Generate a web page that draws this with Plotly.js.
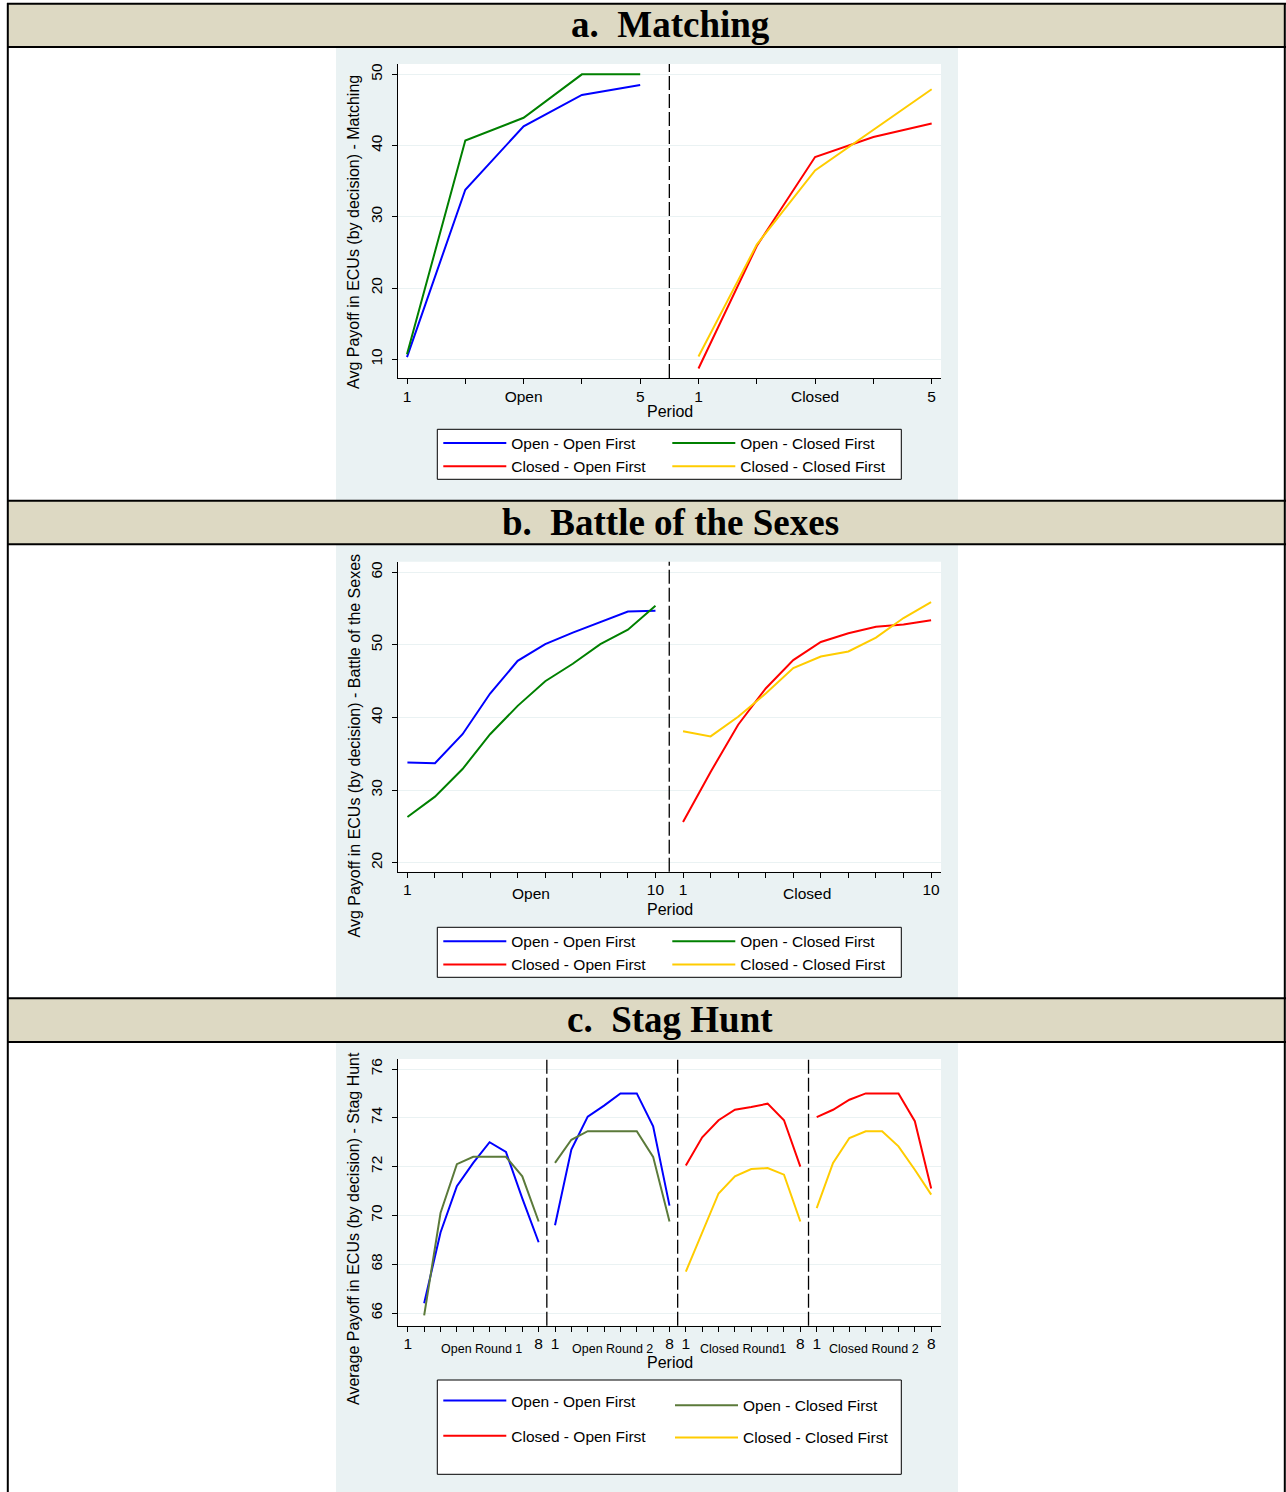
<!DOCTYPE html>
<html><head><meta charset="utf-8">
<script src="https://cdn.plot.ly/plotly-3.0.1.min.js"></script>
<style>html,body{margin:0;padding:0;background:#fff}#chart{width:1286px;height:1492px}</style>
</head><body><div id="chart"></div>
<script>
// ================= DATA =================
const seriesNames = ["Open - Open First", "Open - Closed First", "Closed - Open First", "Closed - Closed First"];
const panelTitles = ["a.\u00a0\u00a0Matching", "b.\u00a0\u00a0Battle of the Sexes", "c.\u00a0\u00a0Stag Hunt"];
const yTitles = ["Avg Payoff in ECUs (by decision) - Matching",
                 "Avg Payoff in ECUs (by decision) - Battle of the Sexes",
                 "Average Payoff in ECUs (by decision) - Stag Hunt"];
const xTitle = "Period";

// a. Matching : 5 periods, phases Open / Closed
const matchPhases = ["Open", "Closed"];
const matchPeriods = [1, 2, 3, 4, 5];
const matchOpenOpenFirst     = [10.3, 33.8, 42.7, 47.1, 48.5];
const matchOpenClosedFirst   = [10.7, 40.7, 43.9, 50.0, 50.0];
const matchClosedOpenFirst   = [8.7, 25.9, 38.4, 41.2, 43.1];
const matchClosedClosedFirst = [10.4, 26.1, 36.5, 42.2, 47.9];
const matchYTicks = [10, 20, 30, 40, 50];

// b. Battle of the Sexes : 10 periods, phases Open / Closed
const bosPhases = ["Open", "Closed"];
const bosPeriods = [1, 2, 3, 4, 5, 6, 7, 8, 9, 10];
const bosOpenOpenFirst     = [33.8, 33.7, 37.7, 43.3, 47.8, 50.1, 51.7, 53.2, 54.6, 54.7];
const bosOpenClosedFirst   = [26.3, 29.1, 32.9, 37.7, 41.6, 45.0, 47.4, 50.1, 52.1, 55.4];
const bosClosedOpenFirst   = [25.6, 32.5, 39.0, 44.0, 47.9, 50.4, 51.6, 52.5, 52.8, 53.4];
const bosClosedClosedFirst = [38.1, 37.4, 40.1, 43.3, 46.8, 48.4, 49.1, 51.0, 53.7, 55.9];
const bosYTicks = [20, 30, 40, 50, 60];

// c. Stag Hunt : 8 periods, rounds
const shRounds = ["Open Round 1", "Open Round 2", "Closed Round1", "Closed Round 2"];
const shPeriods = [1, 2, 3, 4, 5, 6, 7, 8];
const shOpenOpenFirstR1     = [66.4, 69.3, 71.2, 72.15, 73.0, 72.6, 70.7, 68.9];
const shOpenOpenFirstR2     = [69.6, 72.7, 74.05, 74.5, 75.0, 75.0, 73.65, 70.4];
const shOpenClosedFirstR1   = [65.9, 70.1, 72.1, 72.4, 72.4, 72.4, 71.6, 69.75];
const shOpenClosedFirstR2   = [72.15, 73.1, 73.45, 73.45, 73.45, 73.45, 72.4, 69.75];
const shClosedOpenFirstR1   = [72.05, 73.2, 73.9, 74.33, 74.44, 74.58, 73.9, 72.0];
const shClosedOpenFirstR2   = [74.03, 74.33, 74.74, 75.0, 75.0, 75.0, 73.86, 71.1];
const shClosedClosedFirstR1 = [67.7, 69.3, 70.9, 71.6, 71.9, 71.94, 71.67, 69.75];
const shClosedClosedFirstR2 = [70.3, 72.15, 73.17, 73.45, 73.45, 72.83, 71.87, 70.85];
const shYTicks = [66, 68, 70, 72, 74, 76];

// ================= STYLE / LAYOUT =================
const W = 1286, H = 1492;
const px = v => v / W;
const py = v => 1 - v / H;
const FONT = "Liberation Sans, Arial, sans-serif";
const C = {blue: "#0000ff", green: "#008000", olive: "#5b7a3a", red: "#ff0000", gold: "#ffcc00"};
const regionBg = "#eaf2f3", headerBg = "#ddd9c3";

// offset a phase/round onto a continuous axis
const place = (periods, groupIndex) => periods.map(p => p + groupIndex * periods.length);

const traces = [];
function line(x, y, color, name, xa, ya, legend) {
  traces.push({type: "scatter", mode: "lines", x: x, y: y, name: name,
    line: {color: color, width: 2}, xaxis: xa, yaxis: ya, legend: legend,
    legendgroup: legend + name, connectgaps: false, hoverinfo: "x+y+name"});
}
// join two rounds with a gap
const join = (xa, ya, xb, yb) => ({x: [...xa, null, ...xb], y: [...ya, null, ...yb]});

// ---- panel a
line(place(matchPeriods, 0), matchOpenOpenFirst, C.blue, seriesNames[0], "x", "y", "legend");
line(place(matchPeriods, 1), matchClosedOpenFirst, C.red, seriesNames[2], "x", "y", "legend");
line(place(matchPeriods, 0), matchOpenClosedFirst, C.green, seriesNames[1], "x", "y", "legend2");
line(place(matchPeriods, 1), matchClosedClosedFirst, C.gold, seriesNames[3], "x", "y", "legend2");
// ---- panel b
line(place(bosPeriods, 0), bosOpenOpenFirst, C.blue, seriesNames[0], "x2", "y2", "legend3");
line(place(bosPeriods, 1), bosClosedOpenFirst, C.red, seriesNames[2], "x2", "y2", "legend3");
line(place(bosPeriods, 0), bosOpenClosedFirst, C.green, seriesNames[1], "x2", "y2", "legend4");
line(place(bosPeriods, 1), bosClosedClosedFirst, C.gold, seriesNames[3], "x2", "y2", "legend4");
// ---- panel c
let s;
s = join(place(shPeriods, 0), shOpenOpenFirstR1, place(shPeriods, 1), shOpenOpenFirstR2);
line(s.x, s.y, C.blue, seriesNames[0], "x3", "y3", "legend5");
s = join(place(shPeriods, 2), shClosedOpenFirstR1, place(shPeriods, 3), shClosedOpenFirstR2);
line(s.x, s.y, C.red, seriesNames[2], "x3", "y3", "legend5");
s = join(place(shPeriods, 0), shOpenClosedFirstR1, place(shPeriods, 1), shOpenClosedFirstR2);
line(s.x, s.y, C.olive, seriesNames[1], "x3", "y3", "legend6");
s = join(place(shPeriods, 2), shClosedClosedFirstR1, place(shPeriods, 3), shClosedClosedFirstR2);
line(s.x, s.y, C.gold, seriesNames[3], "x3", "y3", "legend6");

// ---- ticks
function phaseTicks(periods, phases) {
  const n = periods.length, vals = [], text = [];
  phases.forEach((ph, g) => periods.forEach((p, i) => {
    vals.push(p + g * n);
    text.push(i === 0 || i === n - 1 ? String(p) : "");
  }));
  return {vals, text};
}
const aT = phaseTicks(matchPeriods, matchPhases);
// matching: phase names sit on the middle period tick
matchPhases.forEach((ph, g) => { aT.text[g * matchPeriods.length + 2] = ph; });
const bT = phaseTicks(bosPeriods, bosPhases);
const bWordVals = bosPhases.map((ph, g) => (bosPeriods.length + 1) / 2 + g * bosPeriods.length);
// stag hunt: ticks on every position 0..32; first "1" label sits one step left (as in original)
const nSH = shPeriods.length;
const shTickVals = [], shTickText = [];
for (let v = 0; v <= nSH * shRounds.length; v++) { shTickVals.push(v); shTickText.push(""); }
shRounds.forEach((r, g) => {
  const first = g === 0 ? 0 : g * nSH + 1;
  shTickText[first] = String(shPeriods[0]);
  shTickText[(g + 1) * nSH] = String(shPeriods[nSH - 1]);
});
const shWordVals = shRounds.map((r, g) => g * nSH + (nSH + 1) / 2);

const tickFont = {family: FONT, size: 15.5, color: "#000"};
function xax(domain, range, vals, text, anchor) {
  return {domain, range, anchor, tickmode: "array", tickvals: vals, ticktext: text,
    ticks: "outside", ticklen: 5, tickwidth: 1, tickcolor: "#000", showline: true, linecolor: "#000",
    linewidth: 1, showgrid: false, zeroline: false, tickfont: tickFont, fixedrange: true,
    ticklabelstandoff: -1};
}
function yax(domain, range, vals, anchor) {
  return {domain, range, anchor, tickmode: "array", tickvals: vals, tickangle: -90,
    ticks: "outside", ticklen: 5, tickwidth: 1, tickcolor: "#000", showline: true, linecolor: "#000",
    linewidth: 1, showgrid: true, gridcolor: regionBg, gridwidth: 1, zeroline: false,
    tickfont: tickFont, fixedrange: true, ticklabelstandoff: 3};
}
const xd = [px(397.5), px(941)];
const aRangeX = [0.837, 10.16], bRangeX = [0.64, 20.36], cRangeX = [-0.63, 32.6];

const layout = {
  width: W, height: H, margin: {l: 0, r: 0, t: 0, b: 0},
  paper_bgcolor: "#fff", plot_bgcolor: "#fff",
  font: {family: FONT, color: "#000"},
  showlegend: true, hovermode: "closest",
  xaxis: xax(xd, aRangeX, aT.vals, aT.text, "y"),
  yaxis: yax([py(378), py(64)], [7.37, 51.45], matchYTicks, "x"),
  xaxis2: xax(xd, bRangeX, bT.vals, bT.text, "y2"),
  yaxis2: yax([py(871.7), py(561.7)], [18.76, 61.46], bosYTicks, "x2"),
  xaxis3: xax(xd, cRangeX, shTickVals, shTickText, "y3"),
  yaxis3: yax([py(1325.7), py(1059)], [65.48, 76.41], shYTicks, "x3"),
  shapes: [], annotations: []
};

function legendAt(x, y, gap) {
  return {x: px(x), y: py(y), xanchor: "left", yanchor: "top", orientation: "v",
    bgcolor: "rgba(0,0,0,0)", borderwidth: 0, itemwidth: 63, tracegroupgap: gap || 0,
    font: {family: FONT, size: 15.5, color: "#000"}, itemclick: false, itemdoubleclick: false};
}
layout.legend  = legendAt(438.3, 426.4);
layout.legend2 = legendAt(667.3, 426.4);
layout.legend3 = legendAt(438.3, 924.7);
layout.legend4 = legendAt(667.3, 924.7);
layout.legend5 = legendAt(438.3, 1384, 12);
layout.legend6 = legendAt(670, 1388.7, 9);

const S = layout.shapes, A = layout.annotations;
const rect = (x0, y0, x1, y1, fill, lineColor, lw, layer) => S.push({type: "rect", xref: "paper", yref: "paper",
  x0: px(x0), x1: px(x1), y0: py(y1), y1: py(y0), fillcolor: fill,
  line: {color: lineColor || "rgba(0,0,0,0)", width: lw || 0}, layer: layer || "below"});
const hline = (y, x0, x1, w) => S.push({type: "line", xref: "paper", yref: "paper", x0: px(x0), x1: px(x1),
  y0: py(y), y1: py(y), line: {color: "#000", width: w || 2}, layer: "above"});
const vline = (x, y0, y1, w) => S.push({type: "line", xref: "paper", yref: "paper", x0: px(x), x1: px(x),
  y0: py(y0), y1: py(y1), line: {color: "#000", width: w || 2}, layer: "above"});

// header bars
const headers = [[3.8, 47], [500.8, 544.3], [998.3, 1042]];
headers.forEach(([t, b]) => rect(8, t, 1285, b, headerBg));
// chart regions
const regions = [[47, 500.8], [544.3, 998.3], [1042, 1492]];
regions.forEach(([t, b]) => rect(336, t, 958, b, regionBg));
// plot areas (white)
const plotAreas = [[64, 378], [561.7, 871.7], [1059, 1325.7]];
plotAreas.forEach(([t, b]) => rect(397.5, t, 941, b, "#fff"));
// legend boxes
rect(437.3, 429.3, 901.3, 479.3, "#fff", "#000", 1, "above");
rect(437.3, 927.3, 901.3, 977.3, "#fff", "#000", 1, "above");
rect(437.3, 1380, 901.3, 1474.3, "#fff", "#000", 1, "above");
// table frame
headers.forEach(([t, b]) => { hline(t, 7, 1286); hline(b, 7, 1286); });
vline(7.8, 3, 1492); vline(1284.8, 3, 1492);

// phase dividers (dashed)
const dividers = [["x", "y", [matchPeriods.length + 0.5]], ["x2", "y2", [bosPeriods.length + 0.5]],
  ["x3", "y3", [1, 2, 3].map(g => g * nSH + 0.5)]];
dividers.forEach(([xa, ya, xs]) => xs.forEach(xv => S.push({type: "line", xref: xa, yref: ya + " domain",
  x0: xv, x1: xv, y0: 0, y1: 1, line: {color: "#000", width: 1.3, dash: "14px,4px"}, layer: "above"})));

// phase / round labels under the axes (placed on the data axis)
bosPhases.forEach((ph, g) => A.push({text: ph, xref: "x2", yref: "paper", x: bWordVals[g], y: py(894),
  xanchor: "center", yanchor: "middle", showarrow: false, font: {family: FONT, size: 15.5, color: "#000"}}));
shRounds.forEach((r, g) => A.push({text: r, xref: "x3", yref: "paper", x: shWordVals[g], y: py(1349),
  xanchor: "center", yanchor: "middle", showarrow: false, font: {family: FONT, size: 12.5, color: "#000"}}));

// header titles
const headerCenters = [25, 522, 1019.8];
panelTitles.forEach((t, i) => A.push({text: t, xref: "paper", yref: "paper", x: px(670), y: py(headerCenters[i]),
  xanchor: "center", yanchor: "middle", showarrow: false,
  font: {family: "Liberation Serif, Times New Roman, serif", size: 37, weight: "bold", color: "#000"}}));
// y titles
const yTitleCenters = [232.5, 746, 1228.5];
yTitles.forEach((t, i) => A.push({text: t, xref: "paper", yref: "paper", x: px(353.5), y: py(yTitleCenters[i]),
  xanchor: "center", yanchor: "middle", textangle: -90, showarrow: false,
  font: {family: FONT, size: 16, color: "#000"}}));
// x titles
[411, 909, 1362].forEach(yv => A.push({text: xTitle, xref: "paper", yref: "paper", x: px(669.5), y: py(yv),
  xanchor: "center", yanchor: "middle", showarrow: false, font: {family: FONT, size: 16, color: "#000"}}));

Plotly.newPlot("chart", traces, layout, {displayModeBar: false, responsive: false});
</script></body></html>
